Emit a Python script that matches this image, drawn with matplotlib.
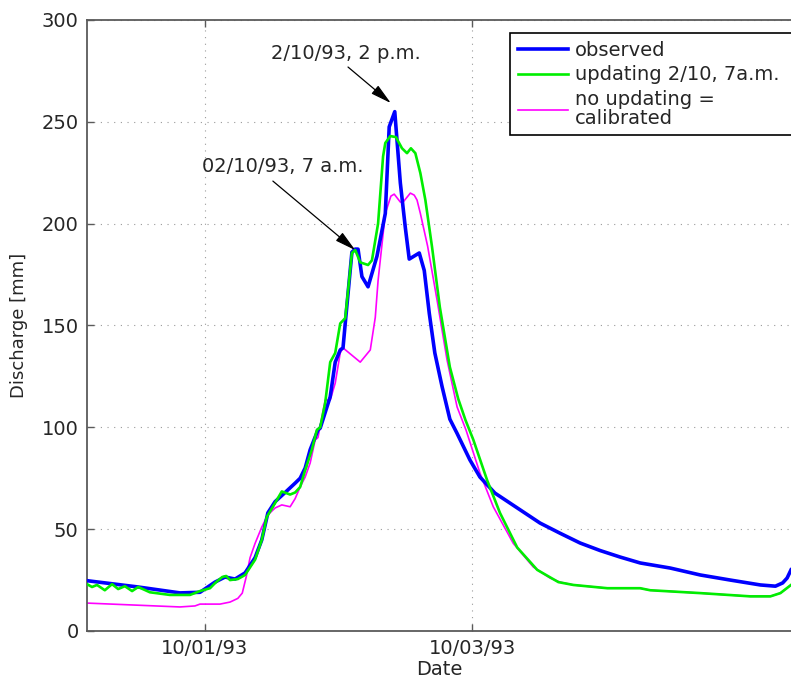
import numpy as np
import matplotlib
matplotlib.use('Agg')
import matplotlib.pyplot as plt

# time in hours from 10/01/93 00:00, discharge in mm
obs_t = [-21.2, -12.0, -4.5, -0.9, 1.8, 3.6, 5.4, 7.2, 9.0, 10.2, 11.3, 12.6, 14.4,
         16.2, 17.1, 18.0, 18.9, 20.3, 20.7, 22.5, 23.4, 24.3, 24.8, 25.2, 26.4,
         27.0, 27.5, 28.2, 29.3, 30.9, 32.4, 33.1, 34.1, 35.1, 36.0, 36.7, 38.5,
         39.4, 40.3, 41.3, 42.6, 44.0, 45.3, 47.6, 49.4, 52.1, 54.8, 57.5, 60.2,
         63.8, 67.4, 71.0, 74.6, 78.2, 83.6, 89.0, 94.4, 99.8, 102.5, 103.8,
         104.6, 105.3]
obs_q = [24.7, 21.6, 18.7, 19.0, 24.0, 26.5, 25.5, 28.5, 36.0, 44.7, 58.0, 63.5, 68.0,
         72.6, 75.0, 80.0, 89.0, 98.7, 99.6, 115.0, 132.0, 138.0, 139.0, 151.0, 186.0,
         187.5, 187.5, 174.0, 169.0, 184.0, 205.0, 247.5, 255.0, 220.0, 198.0, 182.6, 185.6,
         177.0, 156.0, 136.5, 120.0, 104.0, 97.0, 84.0, 75.6, 67.7, 62.8, 57.9, 53.0,
         48.0, 43.2, 39.5, 36.3, 33.4, 30.9, 27.5, 25.0, 22.6, 22.0, 23.6,
         26.0, 30.0]

upd_t = [-21.2, -20.3, -19.4, -18.0, -16.7, -15.6, -14.4, -13.1, -12.0, -9.9, -6.3,
         -2.7, -0.9, 0.9, 1.8, 3.1, 3.8, 4.5, 5.9, 7.2, 9.0, 10.2, 11.1, 12.2, 13.8,
         15.3, 16.2, 17.1, 18.0, 19.2, 20.1, 20.7, 21.6, 22.5, 23.4, 24.3, 25.2,
         26.4, 27.0, 27.9, 29.3, 30.0, 31.1, 32.0, 32.4, 33.3, 34.3, 35.4, 36.3,
         37.0, 37.8, 38.7, 39.6, 40.8, 42.2, 44.0, 45.5, 46.8, 48.2, 50.7, 53.0,
         56.1, 59.7, 63.5, 66.2, 72.3, 78.2, 80.0, 89.0, 98.0, 101.6, 103.4, 105.3]
upd_q = [23.0, 21.6, 22.6, 20.0, 23.0, 20.6, 22.0, 19.6, 21.6, 19.0, 17.7,
         17.7, 19.6, 21.0, 23.5, 26.5, 27.0, 25.0, 25.5, 27.5, 35.0, 44.7, 56.0, 61.0, 68.5,
         67.0, 68.0, 70.7, 79.0, 89.0, 98.7, 100.0, 112.0, 132.0, 136.5, 151.0, 153.6,
         185.6, 187.0, 181.0, 179.7, 182.0, 200.0, 233.0, 239.6, 243.0, 242.5, 237.0, 234.6,
         237.0, 234.6, 224.8, 211.6, 188.5, 159.0, 129.6, 114.0, 103.6, 94.0, 74.0, 58.0,
         41.0, 30.0, 24.0, 22.6, 21.0, 21.0, 20.0, 18.6, 17.0, 17.0, 18.6, 22.6]

cal_t = [-21.2, -4.5, -1.8, -0.9, 2.7, 4.5, 5.9, 6.7, 7.4, 8.1, 9.0, 10.2, 11.3,
         12.6, 13.8, 15.3, 16.2, 17.1, 18.0, 18.9, 19.8, 20.3, 21.6, 22.5, 23.4,
         24.3, 24.8, 27.9, 29.7, 30.6, 31.1, 32.4, 33.4, 34.0, 35.1, 35.6, 36.9,
         37.6, 38.1, 38.7, 40.0, 41.7, 43.5, 45.3, 46.9, 49.4, 51.8, 55.4, 59.0,
         62.0, 63.8, 66.2, 72.3, 78.2, 80.0, 89.0, 98.0, 101.6, 103.4, 105.3]
cal_q = [13.7, 11.8, 12.3, 13.2, 13.2, 14.2, 16.0, 18.6, 26.5, 36.0, 43.0, 51.0, 57.0,
         60.4, 61.9, 61.0, 65.0, 70.7, 75.6, 82.5, 93.8, 95.0, 113.4, 113.4, 121.7,
         136.5, 139.0, 132.0, 138.0, 154.0, 172.0, 205.0, 213.5, 214.5, 210.6, 210.6, 215.0,
         214.0, 211.6, 205.0, 189.0, 162.5, 133.0, 110.0, 98.7, 77.6, 61.0, 43.0, 31.4,
         26.0, 24.0, 22.6, 21.0, 21.0, 20.0, 18.6, 17.0, 17.0, 18.6, 22.6]

tick_pos = [0, 48]
tick_lab = ['10/01/93', '10/03/93']

# annotations: text, text position, arrow start, arrow tip
note1 = ('2/10/93, 2 p.m.', (25.3, 283.3), (25.7, 276.9), (33.4, 259.2))
note2 = ('02/10/93, 7 a.m.', (14.0, 228.3), (12.2, 220.9), (27.0, 187.0))

txt_col = '#262626'
ax_col = '#5a5a5a'

fig = plt.figure(figsize=(7.91, 6.82), dpi=100)
ax = fig.add_axes([0.110, 0.0748, 0.890, 0.8959])

ax.plot(obs_t, obs_q, color='#0000ff', lw=2.6, label='observed', zorder=3)
ax.plot(upd_t, upd_q, color='#00ee00', lw=1.9, label='updating 2/10, 7a.m.', zorder=4)
ax.plot(cal_t, cal_q, color='#ff00ff', lw=1.2, label='no updating =\ncalibrated', zorder=2)

ax.set_xlim(-21.2, 105.3)
ax.set_ylim(0, 300)
ax.set_xticks(tick_pos)
ax.set_xticklabels(tick_lab)
ax.set_yticks(np.arange(0, 301, 50))

ax.grid(True, color='#9a9a9a', lw=0.8, ls=(0, (1, 5)))
ax.tick_params(direction='in', length=5, width=1, color=ax_col, labelcolor=txt_col,
               labelsize=14, pad=6, top=True, right=False)
for side in ['left', 'bottom', 'top']:
    ax.spines[side].set_color(ax_col)
    ax.spines[side].set_linewidth(1.3)
ax.spines['right'].set_visible(False)

ax.set_xlabel('Date', fontsize=14, color=txt_col, labelpad=1)
ax.set_ylabel('Discharge [mm]', fontsize=13, color=txt_col, labelpad=10)

for txt, tpos, start, tip in [note1, note2]:
    ax.text(tpos[0], tpos[1], txt, ha='center', va='center', fontsize=14, color=txt_col)
    ax.annotate('', xy=tip, xytext=start,
                arrowprops=dict(arrowstyle='-|>,head_length=0.8,head_width=0.2',
                                color='black', lw=0.9, mutation_scale=16,
                                shrinkA=0, shrinkB=0))

leg = ax.legend(loc='upper left', bbox_to_anchor=(0.601, 0.0, 0.42, 0.979), mode='expand',
                fontsize=14, frameon=True, fancybox=False, framealpha=1, edgecolor='black',
                borderpad=0.4, labelspacing=0.3, handlelength=2.6,
                handletextpad=0.35, borderaxespad=0)
leg.get_frame().set_linewidth(1.2)
for t in leg.get_texts():
    t.set_color(txt_col)
leg.get_texts()[2].set_linespacing(0.95)

fig.savefig('out.png', dpi=100)
